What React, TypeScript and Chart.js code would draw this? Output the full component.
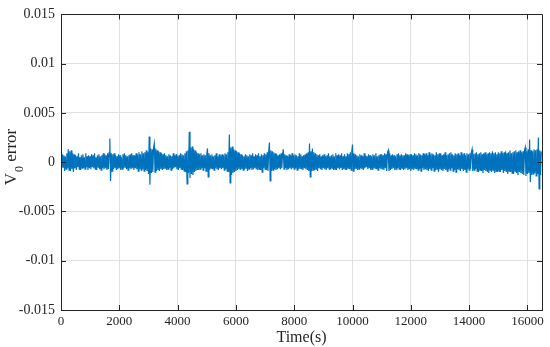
import { useEffect, useRef } from "react";
import { Chart, registerables } from "chart.js";

Chart.register(...registerables);

// sampling interval of the recorded error signal (s)
const timeStep = 25;

// V0 error samples (V) (one row = 250 s)
const vError = [
  0.0003, -0.0006, 0.0008, -0.0005, 0.0007, -0.0009, 0.0006, -0.0007, 0.0009, -0.0006,
  0.0013, -0.0008, 0.0011, -0.0009, 0.0012, -0.0007, 0.0009, -0.001, 0.0008, -0.0006,
  0.0007, -0.0008, 0.0006, -0.0005, 0.0009, -0.0007, 0.0005, -0.0008, 0.0007, -0.0006,
  0.0008, -0.0006, 0.0005, -0.0007, 0.0009, -0.0005, 0.0006, -0.0008, 0.0007, -0.0006,
  0.0006, -0.0007, 0.0008, -0.0005, 0.0007, -0.0006, 0.0009, -0.0007, 0.0005, -0.0008,
  0.0007, -0.0005, 0.0008, -0.0007, 0.0006, -0.0008, 0.0007, -0.0006, 0.0009, -0.0007,
  0.0008, -0.0006, 0.0007, -0.0008, 0.0009, -0.0007, 0.001, 0.0024, -0.0019, 0.0009,
  -0.0009, 0.0008, -0.0007, 0.0009, -0.0006, 0.0007, -0.0008, 0.0006, -0.0007, 0.0008,
  -0.0006, 0.0007, -0.0008, 0.0005, -0.0007, 0.0008, -0.0006, 0.0009, -0.0005, 0.0007,
  -0.0007, 0.0006, -0.0008, 0.0007, -0.0006, 0.0008, -0.0007, 0.0009, -0.0006, 0.0007,
  -0.0008, 0.0007, -0.0006, 0.0009, -0.0007, 0.0008, -0.0009, 0.001, -0.0007, 0.0008,
  -0.0008, 0.0011, -0.0007, 0.0009, -0.0009, 0.001, -0.0008, 0.0012, -0.0009, 0.001,
  -0.0012, 0.0026, -0.0023, 0.0014, -0.0011, 0.0013, -0.001, 0.0015, 0.0019, -0.001,
  0.0014, -0.0009, 0.0012, -0.0008, 0.0011, -0.0009, 0.001, -0.0007, 0.0009, -0.0008,
  0.0008, -0.0007, 0.0009, -0.0006, 0.0007, -0.0008, 0.0006, -0.0007, 0.0008, -0.0006,
  0.0007, -0.0008, 0.0006, -0.0007, 0.0009, -0.0006, 0.0007, -0.0005, 0.0008, -0.0007,
  0.0006, -0.0008, 0.0007, -0.0006, 0.0009, -0.0007, 0.0008, -0.0008, 0.0007, -0.0009,
  0.0009, -0.001, 0.0011, -0.0022, 0.0012, -0.0011, 0.0031, -0.0016, 0.0015, -0.0012,
  0.0016, -0.0013, 0.0013, -0.001, 0.0012, -0.0009, 0.001, -0.0008, 0.0009, -0.0008,
  0.0008, -0.0007, 0.0009, -0.0006, 0.0007, -0.0008, 0.0008, -0.0006, 0.0007, -0.0009,
  0.0008, 0.0014, -0.0015, 0.0009, -0.0008, 0.0007, -0.0006, 0.0008, -0.0007, 0.0006,
  -0.0008, 0.0007, -0.0006, 0.0009, -0.0007, 0.0006, -0.0008, 0.0008, -0.0006, 0.0007,
  -0.0007, 0.0008, -0.0006, 0.0007, -0.0008, 0.0009, -0.0007, 0.0008, -0.0009, 0.001,
  -0.001, 0.0028, -0.0021, 0.0015, -0.0013, 0.0016, -0.0011, 0.0013, -0.001, 0.0012,
  -0.0009, 0.0011, -0.0008, 0.001, -0.0007, 0.0009, -0.0008, 0.0008, -0.0007, 0.0007,
  -0.0008, 0.0006, -0.0007, 0.0008, -0.0006, 0.0007, -0.0009, 0.0006, -0.0007, 0.0008,
  -0.0006, 0.0007, -0.0008, 0.0009, -0.0007, 0.0006, -0.0006, 0.0008, -0.0007, 0.0007,
  -0.0008, 0.0009, -0.0007, 0.0006, -0.0008, 0.0008, -0.001, 0.0007, -0.0006, 0.0009,
  -0.0007, 0.0008, -0.0008, 0.001, -0.0009, 0.0011, 0.002, -0.0019, 0.0012, -0.0009,
  0.0011, -0.0008, 0.001, -0.0007, 0.0009, -0.0008, 0.0008, -0.0007, 0.0007, -0.0006,
  0.0008, -0.0007, 0.0009, -0.0006, 0.0008, 0.0013, -0.0007, 0.0008, -0.0006, 0.0007,
  -0.0008, 0.0006, -0.0007, 0.0008, -0.0006, 0.0007, -0.0007, 0.0009, -0.0006, 0.0007,
  -0.0007, 0.0008, -0.0006, 0.0007, -0.0008, 0.0006, -0.0007, 0.0009, -0.0006, 0.0008,
  -0.0007, 0.0006, -0.0008, 0.0007, -0.0006, 0.0008, -0.0007, 0.0009, -0.0008, 0.001,
  -0.0009, 0.0019, -0.0015, 0.0011, -0.0009, 0.0014, -0.0008, 0.001, -0.0008, 0.0009,
  -0.0007, 0.0008, -0.0009, 0.0007, -0.0006, 0.0008, -0.0007, 0.0006, -0.0008, 0.0007,
  -0.0006, 0.0008, -0.0007, 0.0006, -0.0008, 0.0007, -0.0006, 0.0009, -0.0007, 0.0006,
  -0.0007, 0.0007, -0.0006, 0.0008, -0.0008, 0.0006, -0.0007, 0.0009, -0.0008, 0.0007,
  -0.0006, 0.0008, -0.0007, 0.0007, -0.0006, 0.0009, -0.0008, 0.0006, -0.0007, 0.0008,
  -0.0007, 0.0006, -0.0008, 0.0009, -0.0006, 0.0008, -0.0007, 0.001, -0.0008, 0.0011,
  0.0018, -0.0009, 0.0009, -0.0007, 0.0008, -0.0006, 0.0007, -0.0008, 0.0006, -0.0007,
  0.0008, -0.0006, 0.0007, -0.0007, 0.0006, -0.0008, 0.0009, -0.0006, 0.0007, -0.0005,
  0.0006, -0.0007, 0.0008, -0.0006, 0.0007, -0.0008, 0.0006, -0.0007, 0.0008, -0.0006,
  0.0007, -0.0006, 0.0009, -0.0007, 0.0006, -0.0008, 0.0007, -0.0006, 0.0008, -0.0007,
  0.0008, -0.0007, 0.0007, -0.0008, 0.0009, -0.0006, 0.0008, -0.0009, 0.001, 0.0012,
  -0.0009, 0.0009, -0.0008, 0.0007, -0.0007, 0.0008, -0.0006, 0.0007, -0.0008, 0.0006,
  -0.0007, 0.0008, -0.0006, 0.0009, -0.0007, 0.0007, -0.0008, 0.0008, -0.0006, 0.0007,
  -0.0008, 0.0007, -0.0007, 0.0009, -0.0006, 0.0008, -0.0008, 0.0007, -0.0007, 0.0008,
  -0.0009, 0.0008, -0.0007, 0.0007, -0.0008, 0.0009, -0.0006, 0.0008, -0.0007, 0.0007,
  -0.0008, 0.0009, -0.0007, 0.0008, -0.0009, 0.0007, -0.0006, 0.0009, -0.0008, 0.0008,
  -0.0007, 0.0009, -0.0008, 0.0007, -0.0009, 0.001, -0.0007, 0.0008, -0.0008, 0.0009,
  -0.0006, 0.0008, -0.0009, 0.0007, -0.0008, 0.001, -0.0007, 0.0008, -0.001, 0.0009,
  -0.0007, 0.0009, -0.0008, 0.0007, -0.0009, 0.0008, -0.0007, 0.001, -0.0008, 0.0007,
  -0.0009, 0.0008, -0.0007, 0.0009, -0.0008, 0.001, -0.0006, 0.0008, -0.0009, 0.0007,
  -0.0008, 0.0009, -0.001, 0.0008, -0.0007, 0.0009, -0.0008, 0.0007, -0.0009, 0.001,
  -0.0007, 0.0008, -0.0009, 0.0009, -0.0008, 0.0007, -0.001, 0.0009, -0.0007, 0.0008,
  -0.0008, 0.0009, -0.0007, 0.001, 0.0013, -0.0009, 0.0008, -0.0008, 0.0009, -0.0007,
  0.001, -0.0009, 0.0008, -0.001, 0.0009, -0.0008, 0.001, -0.0009, 0.0008, -0.0011,
  0.0009, -0.0008, 0.001, -0.0009, 0.0008, -0.001, 0.0009, -0.0011, 0.001, -0.0008,
  0.0009, -0.001, 0.0011, -0.0008, 0.0009, -0.0011, 0.001, -0.0009, 0.0008, -0.001,
  0.001, -0.0009, 0.0009, -0.001, 0.0011, -0.0008, 0.0009, -0.0011, 0.001, -0.0009,
  0.0011, -0.001, 0.0009, -0.0012, 0.001, -0.0009, 0.0012, -0.001, 0.0009, -0.0011,
  0.001, -0.0012, 0.0011, -0.0009, 0.0012, -0.0011, 0.001, -0.0013, 0.0011, -0.001,
  0.0012, -0.0011, 0.001, -0.0012, 0.0011, -0.0013, 0.0012, 0.0015, -0.0014, 0.0011,
  -0.0012, 0.0013, -0.0011, 0.0023, -0.002, 0.0012, -0.0013, 0.0011, -0.0012, 0.0013,
  -0.0011, 0.0012, -0.0014, 0.0013, -0.0012, 0.0025, -0.0027, 0.0012, -0.0013, 0.0011,
];

const xTicks = [0, 2000, 4000, 6000, 8000, 10000, 12000, 14000, 16000];
const yTicks = [-0.015, -0.01, -0.005, 0, 0.005, 0.01, 0.015];
const xRange = [0, 16500];
const yRange = [-0.015, 0.015];
const xTitle = "Time(s)";
const yTitleMain = "V";
const yTitleSub = "0";
const yTitleRest = " error";

const FONT = "'Liberation Serif', 'Times New Roman', serif";
const TEXT = "#262626";
const AXIS = "#262626";
const GRID = "#e0e0e0";
const LINE = "#0072BD";

const frame = {
  id: "frame",
  afterDraw(chart: any) {
    const { ctx, chartArea: a, scales } = chart;
    const xs = scales.x;
    const ys = scales.y;
    ctx.save();
    ctx.strokeStyle = AXIS;
    ctx.lineWidth = 1;
    ctx.beginPath();
    ctx.rect(Math.round(a.left) + 0.5, Math.round(a.top) + 0.5, Math.round(a.right - a.left), Math.round(a.bottom - a.top));
    ctx.stroke();
    const tl = 5;
    ctx.beginPath();
    for (const v of xTicks) {
      const px = Math.round(xs.getPixelForValue(v)) + 0.5;
      ctx.moveTo(px, a.bottom);
      ctx.lineTo(px, a.bottom - tl);
      ctx.moveTo(px, a.top);
      ctx.lineTo(px, a.top + tl);
    }
    for (const v of yTicks) {
      const py = Math.round(ys.getPixelForValue(v)) + 0.5;
      ctx.moveTo(a.left, py);
      ctx.lineTo(a.left + tl, py);
      ctx.moveTo(a.right, py);
      ctx.lineTo(a.right - tl, py);
    }
    ctx.stroke();

    // y-axis title with subscript
    const cy = 157;
    const cx = 10.5;
    ctx.translate(cx, cy);
    ctx.rotate(-Math.PI / 2);
    ctx.fillStyle = TEXT;
    ctx.textBaseline = "alphabetic";
    const big = `17px ${FONT}`;
    const small = `12px ${FONT}`;
    ctx.font = big;
    const w1 = ctx.measureText(yTitleMain).width;
    const w3 = ctx.measureText(yTitleRest).width;
    ctx.font = small;
    const w2 = ctx.measureText(yTitleSub).width;
    const gap = 1;
    let x0 = -(w1 + gap + w2 + w3) / 2;
    const base = 5;
    ctx.font = big;
    ctx.fillText(yTitleMain, x0, base);
    x0 += w1 + gap;
    ctx.font = small;
    ctx.fillText(yTitleSub, x0, base + 7);
    x0 += w2;
    ctx.font = big;
    ctx.fillText(yTitleRest, x0, base);
    ctx.restore();
  },
};

export default function App() {
  const ref = useRef<HTMLCanvasElement>(null);
  useEffect(() => {
    document.body.style.margin = "0";
    const points = vError.map((v, i) => ({ x: i * timeStep, y: v }));
    const chart = new Chart(ref.current!, {
      type: "line",
      data: {
        datasets: [
          {
            data: points,
            borderColor: LINE,
            borderWidth: 1.2,
            pointRadius: 0,
            tension: 0,
            fill: false,
          },
        ],
      },
      options: {
        animation: false,
        responsive: false,
        events: [],
        layout: { padding: { left: 0, right: 8, top: 9, bottom: 0 } },
        plugins: { legend: { display: false }, tooltip: { enabled: false } },
        scales: {
          x: {
            type: "linear",
            min: xRange[0],
            max: xRange[1],
            afterBuildTicks: (s: any) => {
              s.ticks = xTicks.map((v) => ({ value: v }));
            },
            afterFit: (s: any) => {
              s.height = 37;
            },
            ticks: {
              font: { family: FONT, size: 13 },
              color: TEXT,
              padding: 4,
              maxRotation: 0,
              autoSkip: false,
              callback: (v: any) => String(v),
            },
            grid: { color: GRID, drawTicks: false },
            border: { color: AXIS },
            title: {
              display: true,
              text: xTitle,
              font: { family: FONT, size: 16 },
              color: TEXT,
              padding: { top: 0, bottom: 0 },
            },
          },
          y: {
            type: "linear",
            min: yRange[0],
            max: yRange[1],
            afterBuildTicks: (s: any) => {
              s.ticks = yTicks.map((v) => ({ value: v }));
            },
            afterFit: (s: any) => {
              s.width = 61;
            },
            ticks: {
              font: { family: FONT, size: 14 },
              color: TEXT,
              padding: 6,
              autoSkip: false,
              callback: (v: any) => String(v),
            },
            grid: { color: GRID, drawTicks: false },
            border: { color: AXIS },
          },
        },
      },
      plugins: [frame],
    });
    return () => chart.destroy();
  }, []);
  return <canvas ref={ref} width={550} height={347} style={{ display: "block" }} />;
}
